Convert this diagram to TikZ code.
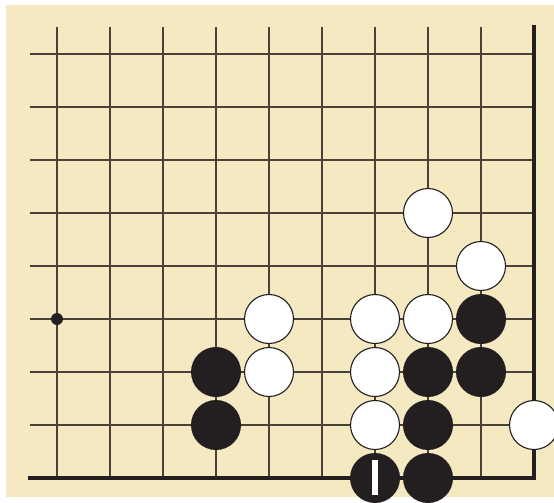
\documentclass[tikz,border=0pt]{standalone}
\usepackage{xcolor}
\definecolor{board}{HTML}{F5E9C2}
\definecolor{gridc}{HTML}{4A4239}
\definecolor{stoneb}{HTML}{231F20}
\begin{document}
\begin{tikzpicture}[x=1pt,y=-1pt,
  gridline/.style={draw=gridc,line width=1.4pt},
  edgeline/.style={draw=stoneb,line width=4pt},
  wstone/.style={circle,draw=stoneb,fill=white,line width=1.1pt,minimum size=49pt,inner sep=0pt},
  bstone/.style={circle,fill=stoneb,minimum size=50pt,inner sep=0pt},
  hoshi/.style={circle,fill=stoneb,minimum size=12pt,inner sep=0pt}]
\useasboundingbox (0,0) rectangle (554,503);
\fill[board] (6,5) rectangle (554,497);
% grid
\foreach \c in {0,...,8} {
  \draw[gridline] ({57+53*\c},27) -- ({57+53*\c},478);
}
\foreach \r in {0,...,7} {
  \draw[gridline] (30,{54+53*\r}) -- (534,{54+53*\r});
}
\draw[edgeline] (534,25) -- (534,478) -- (28,478);
% star point
\node[hoshi] (h) at (57,319) {};
% white stones
\node[wstone] (w1) at (428,213) {};
\node[wstone] (w2) at (481,266) {};
\node[wstone] (w3) at (269,319) {};
\node[wstone] (w4) at (375,319) {};
\node[wstone] (w5) at (428,319) {};
\node[wstone] (w6) at (269,372) {};
\node[wstone] (w7) at (375,372) {};
\node[wstone] (w8) at (375,425) {};
\node[wstone] (w9) at (534,425) {};
% black stones
\node[bstone] (b1) at (481,319) {};
\node[bstone] (b2) at (216,372) {};
\node[bstone] (b3) at (428,372) {};
\node[bstone] (b4) at (481,372) {};
\node[bstone] (b5) at (216,425) {};
\node[bstone] (b6) at (428,425) {};
\node[bstone] (b7) at (375,478) {};
\node[bstone] (b8) at (428,478) {};
% mark on stone
\fill[white] ([xshift=-3pt,yshift=18pt]b7.center) rectangle ([xshift=3pt,yshift=-17pt]b7.center);
\end{tikzpicture}
\end{document}
